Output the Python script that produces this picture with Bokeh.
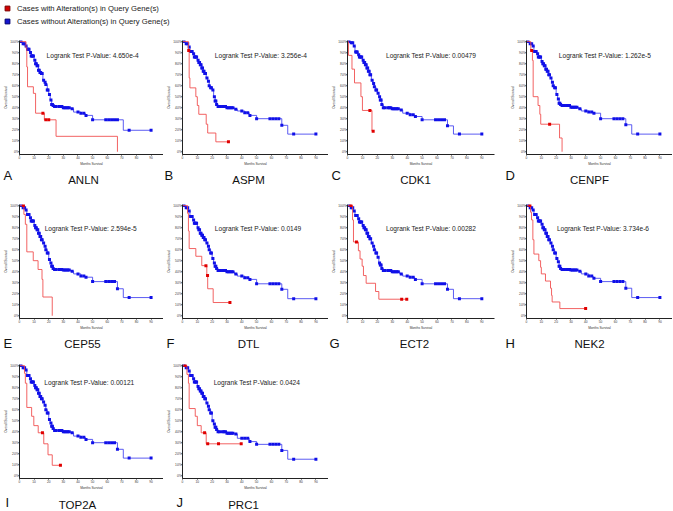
from bokeh.plotting import figure
from bokeh.layouts import column, row
from bokeh.models import (Label, Legend, LegendItem, FixedTicker,
                          PrintfTickFormatter, Range1d)
from bokeh.embed import file_html
from bokeh.resources import INLINE

# ---------------- data ----------------
LEGEND_LABELS = ["Cases with Alteration(s) in Query Gene(s)",
                 "Cases without Alteration(s) in Query Gene(s)"]
GENES = ["ANLN", "ASPM", "CDK1", "CENPF", "CEP55", "DTL", "ECT2", "NEK2", "TOP2A", "PRC1"]
LETTERS = ["A", "B", "C", "D", "E", "F", "G", "H", "I", "J"]
P_VALUES = ["4.650e-4", "3.256e-4", "0.00479", "1.262e-5", "2.594e-5",
            "0.0149", "0.00282", "3.734e-6", "0.00121", "0.0424"]
X_TICKS = [0, 10, 20, 30, 40, 50, 60, 70, 80, 90]
Y_TICKS = [0, 10, 20, 30, 40, 50, 60, 70, 80, 90, 100]

# altered cases (red) – step times (months) and survival (%)
RED_TIMES = [
    [0, 4.4, 5, 5.5, 9.5, 11, 17, 25, 67],
    [0, 4, 4.5, 5, 9, 10, 11, 16, 17, 22.5, 31],
    [0, 0.7, 3, 4.7, 9, 10, 16.4, 17.2],
    [0, 2.9, 4, 4.5, 7.8, 9, 9.6, 22.3, 24],
    [0, 3, 4, 5, 9.4, 12.7, 15.4, 16, 22.4],
    [0, 3.4, 4, 4.5, 9, 13, 16.4, 17, 20.7, 32],
    [0, 3.4, 4, 7.3, 8.4, 9.8, 10.7, 12.5, 18.8, 21, 39.7],
    [0, 2.7, 3.4, 4.3, 5, 8.3, 9.5, 10, 12.8, 16.2, 16.9, 17.3, 22.5, 39.9],
    [0, 3.4, 4, 5, 8.3, 9.8, 12.8, 16.6, 19.5, 22.4, 28],
    [0, 3, 4, 4.5, 8.6, 10, 12.6, 16, 39.6],
]
RED_SURV = [
    [100, 94, 77, 59, 53, 35, 29, 14, 0],
    [100, 92, 67, 58, 50, 42, 34, 25, 17, 9, 9],
    [100, 87.5, 75, 62.5, 50, 37.5, 18.7, 18.7],
    [100, 92, 83, 50, 42, 34, 25, 12.5, 0],
    [100, 92, 83, 58, 50, 42, 33, 17, 0],
    [100, 93, 77, 61, 54, 45.5, 36.5, 24.5, 12, 12],
    [100, 87, 67, 59, 51.5, 45, 36.5, 29.5, 22, 15, 15],
    [100, 94, 87, 69, 56, 50, 44, 38, 31.5, 25, 18.5, 12.5, 6.5, 6.5],
    [100, 93, 84, 62, 54, 45.5, 39, 29, 19, 9.5, 9.5],
    [100, 92, 84, 61, 54, 45.5, 39, 29, 29],
]
RED_CENSOR = [
    [16, 18, 20],
    [4.2, 31],
    [15, 17.2],
    [3.5, 15.6],
    [2.7],
    [15.8, 16.9, 32],
    [2.3, 6, 36.3, 39.7],
    [2.3, 39.9],
    [15.7, 28],
    [1.8, 14.9, 17, 24.3, 39.6],
]

# unaltered cases (blue)
BLUE_TIMES = [0, 2, 4, 5, 7, 8, 10, 11, 12, 13, 14, 15, 16, 17, 18, 19, 20, 21,
              22, 23, 24, 30, 35, 37, 42, 45, 50, 67, 71, 90]
BLUE_SURV = [
    [100, 98, 96, 93, 90, 87, 83, 80, 78, 74, 72, 71, 65, 63, 61, 56, 52, 47, 43, 42, 41, 40, 39, 36, 35, 33, 29, 29, 19.5, 19.5],
    [100, 98, 95, 91, 89, 86, 83, 81, 79, 76, 73, 71, 67, 64, 60, 58, 56, 50, 46, 43, 41, 40, 38.5, 37, 35.5, 33, 30, 24, 16, 16],
    [100, 99, 96, 90.5, 88, 86, 83, 81, 79, 76, 73, 70, 65, 62, 59, 56, 53, 50, 47, 43, 40, 39, 38, 35, 33.5, 32, 29, 23.5, 16, 16],
    [100, 98, 96, 91, 89, 86, 82, 80, 78, 75, 73, 70, 67, 63, 60, 58, 52, 48, 44, 43, 42, 40.5, 39, 37, 36, 35, 30, 24.5, 16, 16],
    [100, 98, 96, 92, 89, 86, 82, 80, 78, 75, 72, 69, 66, 63, 60, 57, 51, 48, 45, 43, 42, 41.5, 40.5, 38, 36, 35, 31, 24.5, 16.5, 16.5],
    [100, 98, 95, 90, 87, 84, 80, 78, 75, 73, 71, 69, 66, 63, 60, 57, 52, 48, 45, 43, 41, 40, 38, 36, 34.5, 33, 29, 24, 15.5, 15.5],
    [100, 98, 95, 91, 88, 85, 82, 80, 78, 75, 72, 70, 66, 63, 60, 57, 53, 48, 46, 43, 41, 40, 38, 36, 35, 33, 29, 24, 15.5, 15.5],
    [100, 98, 96, 92, 89, 86, 83, 80, 78, 75, 72, 69, 66, 63, 60, 57, 52, 49, 45, 43, 42, 41.5, 40.5, 38, 36, 34, 31, 25, 16.5, 16.5],
    [100, 98, 96, 91, 88, 85, 82, 80, 78, 75, 72, 70, 67, 64, 60, 57, 51, 48, 45, 43, 41, 40, 39, 36, 35, 33, 30, 24, 16, 16],
    [100, 98, 95, 91, 88, 85, 81, 79, 77, 75, 72, 70, 66, 63, 60, 57, 50, 47, 44, 42, 40, 38.5, 38, 34, 34, 31, 28.5, 23, 15, 15],
]
BLUE_CENSOR = [1, 2.5, 3.5, 4.5, 5.5, 6, 6.5, 7.5, 8, 8.5, 9, 9.5, 10.5, 11, 11.5,
               12, 12.5, 13, 13.5, 14, 14.5, 15, 15.5, 16.5, 17.5, 18, 19, 19.5,
               20.5, 21.5, 22, 22.5, 23, 24, 25, 27, 28, 29, 30, 31, 32, 33, 34,
               36, 40, 42, 44, 45.5, 50, 59, 61, 63, 65, 67, 75, 90]

# ---------------- layout / style (not data) ----------------
FONT = "Liberation Sans"
FRAME_H = 116
FRAME_W = [149, 147, 147, 146]
BORDER_L = [14, 18, 19, 22]
BORDER_R = [0, 0, 10, 0]
BORDER_T = 8
BORDER_B = 12
HEADER_H = 32
STRIP_H = [28, 24, 18]
LETTER_CY = [6.7, 10.5, 10]     # from strip top
GENE_CY = [11.2, 11.5, 12]
TEXT_POS = [(18.5, 87.5), (21.8, 87.5), (25.8, 87.5), (21.8, 87.5),
            (17.2, 79), (21.8, 79), (25.8, 79), (20.5, 79),
            (17, 84.5), (21, 84.5)]
LETTER_X = [3, 1, 3, 1, 3, 3, 1, 1, 5, 13]
GENE_X = [83, 85, 87, 85, 82, 85, 86, 85, 77, 80]

RED_LINE, RED_MARK = "#f04848", "#e00000"
BLUE_LINE, BLUE_MARK = "#4040f0", "#1010e8"


def surv_at(times, survs, t):
    s = survs[0]
    for tt, ss in zip(times, survs):
        if tt <= t:
            s = ss
    return s


def make_panel(i, col):
    bl, br, fw = BORDER_L[col], BORDER_R[col], FRAME_W[col]
    p = figure(width=bl + fw + br, height=BORDER_T + FRAME_H + BORDER_B,
               x_range=Range1d(0, 98.5), y_range=Range1d(-2.5, 101),
               output_backend="svg", toolbar_location=None,
               min_border_left=bl, min_border_right=br,
               min_border_top=BORDER_T, min_border_bottom=BORDER_B)
    p.outline_line_color = None
    p.grid.visible = False
    p.xaxis.ticker = FixedTicker(ticks=X_TICKS)
    p.yaxis.ticker = FixedTicker(ticks=Y_TICKS)
    p.yaxis.formatter = PrintfTickFormatter(format="%d%%")
    p.xaxis.axis_label = "Months Survival"
    p.yaxis.axis_label = "Overall Survival"
    for ax in (p.xaxis[0], p.yaxis[0]):
        ax.axis_line_color = "#222222"
        ax.axis_line_width = 1
        ax.major_tick_out = 1
        ax.major_tick_in = 0
        ax.major_tick_line_color = "#222222"
        ax.minor_tick_line_color = None
        ax.major_label_text_font = FONT
        ax.major_label_text_font_size = "3.2px"
        ax.major_label_text_color = "#333333"
        ax.major_label_standoff = 0
        ax.axis_label_text_font = FONT
        ax.axis_label_text_font_size = "3.2px"
        ax.axis_label_text_font_style = "normal"
        ax.axis_label_text_color = "#333333"
        ax.axis_label_standoff = 0

    # blue (unaltered)
    p.step(BLUE_TIMES, BLUE_SURV[i], mode="after", line_color=BLUE_LINE,
           line_width=1, line_alpha=0.85)
    bc_y = [surv_at(BLUE_TIMES, BLUE_SURV[i], t) for t in BLUE_CENSOR]
    p.scatter(BLUE_CENSOR, bc_y, marker="square", size=3,
              fill_color=BLUE_MARK, line_color=None)
    # red (altered)
    p.step(RED_TIMES[i], RED_SURV[i], mode="after", line_color=RED_LINE,
           line_width=1, line_alpha=0.85)
    rc_y = [surv_at(RED_TIMES[i], RED_SURV[i], t) for t in RED_CENSOR[i]]
    p.scatter(RED_CENSOR[i], rc_y, marker="square", size=3,
              fill_color=RED_MARK, line_color=None)

    tx, ty = TEXT_POS[i]
    p.add_layout(Label(x=tx, y=ty, text="Logrank Test P-Value: " + P_VALUES[i],
                       text_font=FONT, text_font_size="6.6px",
                       text_baseline="middle", text_color="#222222"))
    return p


def make_strip(i, col, r_idx):
    h = STRIP_H[r_idx]
    s = figure(width=BORDER_L[col] + FRAME_W[col] + BORDER_R[col], height=h,
               x_range=Range1d(0, 1), y_range=Range1d(0, 1),
               output_backend="svg", toolbar_location=None,
               x_axis_location=None, y_axis_location=None, min_border=0)
    s.grid.visible = False
    s.outline_line_color = None
    s.add_layout(Label(x=LETTER_X[i], y=h - LETTER_CY[r_idx], x_units="screen",
                       y_units="screen", text=LETTERS[i], text_font=FONT,
                       text_font_size="13px", text_baseline="middle",
                       text_color="#111111"))
    s.add_layout(Label(x=GENE_X[i], y=h - GENE_CY[r_idx], x_units="screen",
                       y_units="screen", text=GENES[i], text_font=FONT,
                       text_font_size="11.5px", text_align="center",
                       text_baseline="middle", text_color="#111111"))
    return s


# header with legend (legend-only renderers sit outside the visible range)
hdr = figure(width=671, height=HEADER_H, x_range=Range1d(0, 1), y_range=Range1d(0, 1),
             output_backend="svg", toolbar_location=None,
             x_axis_location=None, y_axis_location=None, min_border=0)
hdr.grid.visible = False
hdr.outline_line_color = None
r_alt = hdr.scatter(x=[-5], y=[-5], marker="square", fill_color="#d40000",
                    line_color="#7a0000")
r_un = hdr.scatter(x=[-5], y=[-5], marker="square", fill_color="#1414d0",
                   line_color="#000070")
leg = Legend(items=[LegendItem(label=LEGEND_LABELS[0], renderers=[r_alt]),
                    LegendItem(label=LEGEND_LABELS[1], renderers=[r_un])],
             location=(1, 5), orientation="vertical",
             margin=0, padding=0, spacing=1,
             glyph_width=12, glyph_height=12, label_height=12,
             label_standoff=4, label_text_font=FONT,
             label_text_font_size="7.7px", label_text_color="#222222",
             border_line_color=None, background_fill_alpha=0)
hdr.add_layout(leg)

rows = []
for r_idx, idxs in enumerate([range(0, 4), range(4, 8), range(8, 10)]):
    idxs = list(idxs)
    panels = [make_panel(i, c) for c, i in enumerate(idxs)]
    strips = [make_strip(i, c, r_idx) for c, i in enumerate(idxs)]
    rows.append(row(panels, spacing=0))
    rows.append(row(strips, spacing=0))

layout = column([hdr] + rows, spacing=0)

open("out.html", "w").write(file_html(layout, INLINE))
